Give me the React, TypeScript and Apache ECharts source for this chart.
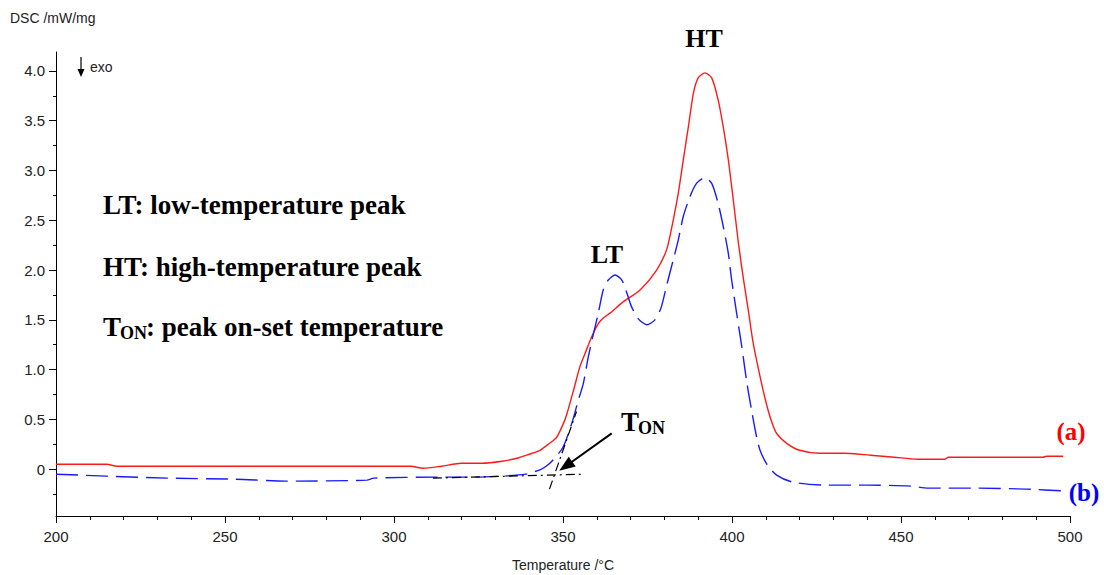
import React, { useEffect, useRef } from 'react';
import * as echarts from 'echarts';

// Curve (a): temperature (°C) and DSC signal (mW/mg)
const tempA = [200, 215, 218, 263, 305, 308.5, 314, 320, 326, 332, 336.4, 340, 343.2, 346, 348.1, 350, 351.1, 353.1, 355, 356.5, 358.5, 360.4, 362, 364, 367.8, 372.8, 377.7, 380.7, 382.6, 384.1, 385.6, 387.1, 388.6, 390, 392, 394, 395.9, 397.4, 398.9, 400.4, 401.9, 403.3, 404.8, 406.3, 408.3, 410.0, 411.5, 413.2, 416.2, 420, 426, 433, 441, 448, 455, 463, 464, 477, 492, 493, 498];
const dscA = [0.05, 0.05, 0.03, 0.03, 0.03, 0.01, 0.03, 0.06, 0.06, 0.08, 0.11, 0.15, 0.19, 0.26, 0.32, 0.45, 0.55, 0.79, 1.03, 1.16, 1.33, 1.46, 1.52, 1.57, 1.68, 1.80, 2.00, 2.21, 2.50, 2.77, 3.11, 3.44, 3.78, 3.93, 3.98, 3.93, 3.71, 3.44, 3.11, 2.70, 2.27, 1.93, 1.60, 1.26, 0.93, 0.68, 0.50, 0.36, 0.26, 0.19, 0.16, 0.16, 0.14, 0.12, 0.10, 0.10, 0.12, 0.12, 0.12, 0.13, 0.13];

// Curve (b)
const tempB = [200, 215, 233, 253, 268, 292, 294, 313, 324, 332, 339, 341, 343, 345, 347, 350, 352.6, 354.5, 356, 357.5, 359, 360.4, 361.9, 363.4, 365.4, 367.4, 368.9, 370.3, 372.3, 374.8, 377.2, 379, 380.7, 382.6, 384.1, 385.6, 387.6, 389.5, 392, 394, 395.9, 397.4, 398.9, 399.9, 401.4, 402.9, 404.3, 405.8, 407.3, 408.3, 410.3, 413.2, 418, 428, 440, 453, 458, 472, 487, 499];
const dscB = [-0.05, -0.07, -0.09, -0.10, -0.12, -0.11, -0.09, -0.08, -0.08, -0.07, -0.05, -0.03, -0.01, 0.03, 0.09, 0.22, 0.46, 0.69, 0.86, 1.13, 1.36, 1.56, 1.80, 1.90, 1.95, 1.90, 1.77, 1.63, 1.51, 1.45, 1.50, 1.62, 1.85, 2.10, 2.30, 2.54, 2.74, 2.87, 2.93, 2.87, 2.67, 2.44, 2.17, 1.90, 1.56, 1.23, 0.89, 0.59, 0.32, 0.19, 0.05, -0.06, -0.13, -0.16, -0.16, -0.17, -0.19, -0.19, -0.20, -0.22];

// Onset construction lines
const baseTanT = [311.5, 355.9];
const baseTanY = [-0.09, -0.05];
const riseTanT = [346.0, 354.0];
const riseTanY = [-0.20, 0.58];
const arrowFrom = [364.4, 0.36];
const arrowTo = [350.8, 0.03];

// Axis ticks
const yMajorTicks = [0, 0.5, 1.0, 1.5, 2.0, 2.5, 3.0, 3.5, 4.0];
const yMinorTicks = [-0.25, 0.25, 0.75, 1.25, 1.75, 2.25, 2.75, 3.25, 3.75];

const zip = (xs: number[], ys: number[]) => xs.map((x, i) => [x, ys[i]]);

const SANS = '"Liberation Sans", Arial, sans-serif';
const SERIF = '"Liberation Serif", "Times New Roman", serif';

const bold = (text: string, x: number, y: number, size: number, fill = '#000', align = 'left') => ({
  type: 'text', x, y,
  style: { text, fontSize: size, fontWeight: 'bold', fontFamily: SERIF, fill, align, verticalAlign: 'middle' },
});

export default function App() {
  const ref = useRef<HTMLDivElement>(null);
  useEffect(() => {
    if (!ref.current) return;
    const chart = echarts.init(ref.current, undefined, { renderer: 'svg' });
    const axisColor = '#000';
    const labelColor = '#222';
    chart.setOption({
      animation: false,
      backgroundColor: '#ffffff',
      grid: { left: 56, right: 34, top: 52, bottom: 59, outerBoundsMode: 'none' },
      xAxis: {
        type: 'value', min: 200, max: 500, interval: 50,
        axisLine: { onZero: false, lineStyle: { color: axisColor, width: 1 } },
        axisTick: { length: 7, lineStyle: { color: axisColor } },
        minorTick: { show: true, splitNumber: 5, length: 4, lineStyle: { color: axisColor } },
        splitLine: { show: false }, minorSplitLine: { show: false },
        axisLabel: { color: labelColor, fontSize: 15, margin: 13, fontFamily: SANS },
        name: 'Temperature /°C', nameLocation: 'middle', nameGap: 42,
        nameTextStyle: { color: labelColor, fontSize: 14, fontFamily: SANS },
      },
      yAxis: [
        {
          type: 'value', position: 'left', min: -0.47, max: 4.19,
          axisLine: { show: true, onZero: false, lineStyle: { color: axisColor, width: 1 } },
          axisTick: { show: true, length: 7, customValues: yMajorTicks, lineStyle: { color: axisColor } },
          axisLabel: {
            customValues: yMajorTicks, color: labelColor, fontSize: 15, margin: 11, fontFamily: SANS,
            formatter: (v: number) => (Math.abs(v) < 1e-9 ? '0' : v.toFixed(1)),
          },
          splitLine: { show: false },
        },
        {
          type: 'value', position: 'left', min: -0.47, max: 4.19,
          axisLine: { show: false, onZero: false },
          axisTick: { show: true, length: 3, customValues: yMinorTicks, lineStyle: { color: axisColor } },
          axisLabel: { show: false },
          splitLine: { show: false },
        },
      ],
      series: [
        {
          name: '(a)', type: 'line', data: zip(tempA, dscA), showSymbol: false, smooth: 0.25,
          lineStyle: { color: '#ff1a1a', width: 1.4 }, silent: true,
        },
        {
          name: '(b)', type: 'line', data: zip(tempB, dscB), showSymbol: false, smooth: 0.25,
          lineStyle: { color: '#1a1aff', width: 1.4, type: [22, 8] }, silent: true,
        },
        {
          name: 'baseline tangent', type: 'line', data: zip(baseTanT, baseTanY), showSymbol: false,
          lineStyle: { color: '#000', width: 1.2, type: [9, 4, 2, 4] }, silent: true,
        },
        {
          name: 'rise tangent', type: 'line', data: zip(riseTanT, riseTanY), showSymbol: false,
          lineStyle: { color: '#000', width: 1.2, type: [9, 4, 2, 4] }, silent: true,
          markLine: {
            silent: true, symbol: ['none', 'triangle'], symbolSize: [12, 16],
            label: { show: false },
            lineStyle: { color: '#000', width: 2, type: 'solid' },
            data: [[{ coord: arrowFrom }, { coord: arrowTo }]],
          },
        },
      ],
      graphic: [
        { type: 'text', x: 10, y: 18, style: { text: 'DSC /mW/mg', fontSize: 14, fontFamily: SANS, fill: labelColor, verticalAlign: 'middle' } },
        { type: 'line', shape: { x1: 81, y1: 57, x2: 81, y2: 73 }, style: { stroke: '#000', lineWidth: 1.2 } },
        { type: 'polygon', shape: { points: [[77.5, 69], [84.5, 69], [81, 77]] }, style: { fill: '#000' } },
        { type: 'text', x: 90, y: 67, style: { text: 'exo', fontSize: 14, fontFamily: SANS, fill: labelColor, verticalAlign: 'middle' } },
        bold('HT', 704, 38, 26, '#000', 'center'),
        bold('LT', 607, 254, 26, '#000', 'center'),
        bold('LT: low-temperature peak', 103, 205, 27),
        bold('HT: high-temperature peak', 103, 267, 27),
        bold('T', 103, 327, 27),
        bold('ON', 120, 333, 18),
        bold(': peak on-set temperature', 146, 327, 27),
        bold('T', 621, 422, 27),
        bold('ON', 638, 428, 18),
        bold('(a)', 1071, 431, 25, '#ff0000', 'center'),
        bold('(b)', 1084, 492, 25, '#0000ff', 'center'),
      ],
    });
    return () => chart.dispose();
  }, []);
  return <div ref={ref} style={{ position: 'fixed', left: 0, top: 0, width: 1104, height: 575 }} />;
}
